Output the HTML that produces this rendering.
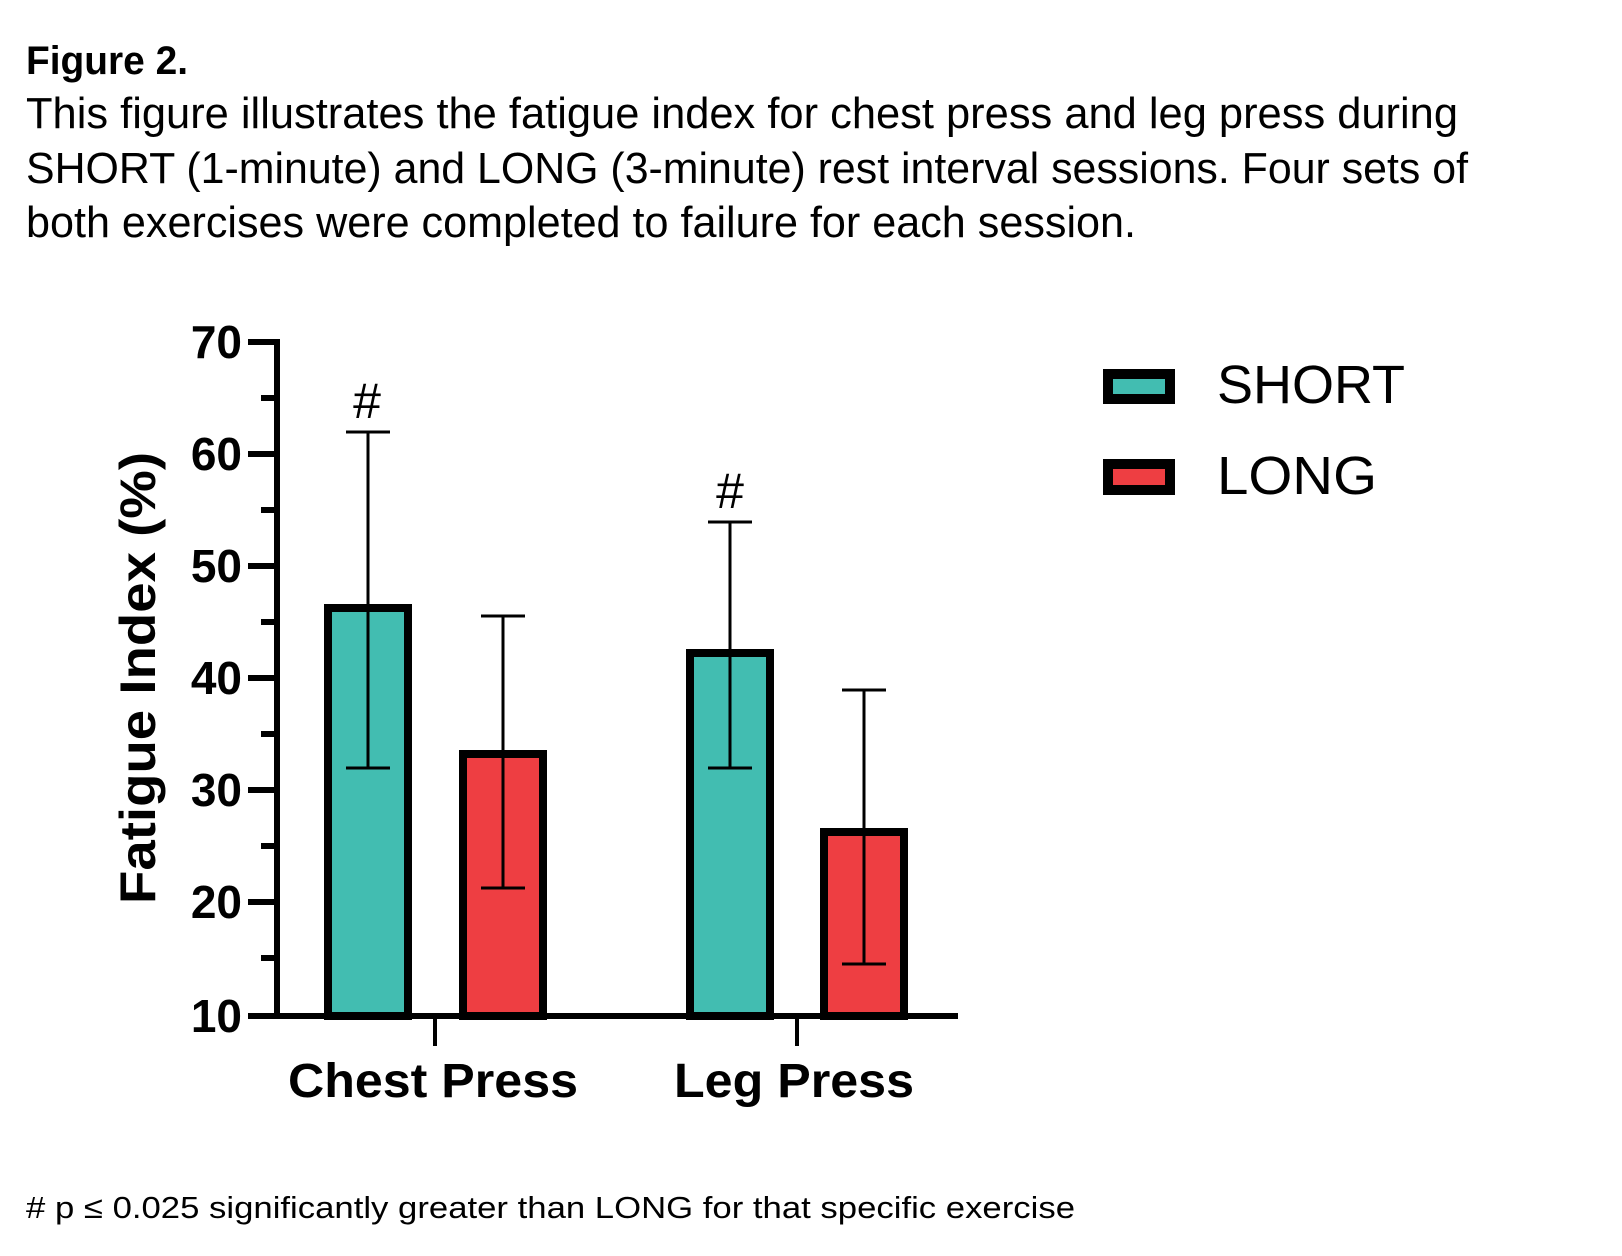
<!DOCTYPE html>
<html><head><meta charset="utf-8"><style>
html,body{margin:0;padding:0;background:#fff;width:1622px;height:1256px;overflow:hidden}
svg{display:block}
</style></head><body>
<svg width="1622" height="1256" viewBox="0 0 1622 1256" xmlns="http://www.w3.org/2000/svg" font-family="Liberation Sans, sans-serif">
<text x="26" y="74" font-size="40" font-weight="bold" textLength="162" lengthAdjust="spacingAndGlyphs">Figure 2.</text>
<text x="26" y="128" font-size="44" textLength="1432" lengthAdjust="spacingAndGlyphs">This figure illustrates the fatigue index for chest press and leg press during</text>
<text x="26" y="183" font-size="44" textLength="1442" lengthAdjust="spacingAndGlyphs">SHORT (1-minute) and LONG (3-minute) rest interval sessions. Four sets of</text>
<text x="26" y="237" font-size="44" textLength="1110" lengthAdjust="spacingAndGlyphs">both exercises were completed to failure for each session.</text>

<!-- bars -->
<g stroke="#000" stroke-width="8">
<rect x="328" y="608" width="80" height="408" fill="#42BDB1"/>
<rect x="463" y="754" width="80" height="262" fill="#EE3E42"/>
<rect x="690" y="653" width="80" height="363" fill="#42BDB1"/>
<rect x="824" y="832" width="80" height="184" fill="#EE3E42"/>
</g>
<!-- error bars -->
<g stroke="#000" stroke-width="3">
<line x1="368" y1="432" x2="368" y2="768"/><line x1="346" y1="432" x2="390" y2="432"/><line x1="346" y1="768" x2="390" y2="768"/>
<line x1="503" y1="616" x2="503" y2="888"/><line x1="481" y1="616" x2="525" y2="616"/><line x1="481" y1="888" x2="525" y2="888"/>
<line x1="730" y1="522" x2="730" y2="768"/><line x1="708" y1="522" x2="752" y2="522"/><line x1="708" y1="768" x2="752" y2="768"/>
<line x1="864" y1="690" x2="864" y2="964"/><line x1="842" y1="690" x2="886" y2="690"/><line x1="842" y1="964" x2="886" y2="964"/>
</g>
<text x="367" y="418" font-size="50" text-anchor="middle">#</text>
<text x="730" y="508" font-size="50" text-anchor="middle">#</text>

<!-- axes -->
<g stroke="#000">
<line x1="277" y1="339" x2="277" y2="1019" stroke-width="6"/>
<line x1="248" y1="1016" x2="958" y2="1016" stroke-width="6"/>
<g stroke-width="6">
<line x1="248" y1="342" x2="277" y2="342"/><line x1="248" y1="454" x2="277" y2="454"/><line x1="248" y1="566" x2="277" y2="566"/>
<line x1="248" y1="678" x2="277" y2="678"/><line x1="248" y1="790" x2="277" y2="790"/><line x1="248" y1="902" x2="277" y2="902"/>
<line x1="261" y1="398" x2="277" y2="398"/><line x1="261" y1="510" x2="277" y2="510"/><line x1="261" y1="622" x2="277" y2="622"/>
<line x1="261" y1="734" x2="277" y2="734"/><line x1="261" y1="846" x2="277" y2="846"/><line x1="261" y1="958" x2="277" y2="958"/>
</g>
<line x1="435" y1="1016" x2="435" y2="1046" stroke-width="4"/>
<line x1="797" y1="1016" x2="797" y2="1046" stroke-width="4"/>
</g>
<g font-size="46" font-weight="bold" text-anchor="end">
<text x="242" y="358">70</text><text x="242" y="470">60</text><text x="242" y="582">50</text>
<text x="242" y="694">40</text><text x="242" y="806">30</text><text x="242" y="918">20</text><text x="242" y="1032">10</text>
</g>
<text transform="translate(155,678) rotate(-90)" font-size="50" font-weight="bold" text-anchor="middle" textLength="452" lengthAdjust="spacingAndGlyphs">Fatigue Index (%)</text>
<text x="433" y="1097" font-size="48" font-weight="bold" text-anchor="middle" textLength="290" lengthAdjust="spacingAndGlyphs">Chest Press</text>
<text x="794" y="1097" font-size="48" font-weight="bold" text-anchor="middle" textLength="240" lengthAdjust="spacingAndGlyphs">Leg Press</text>

<!-- legend -->
<rect x="1108" y="374" width="62" height="25" fill="#42BDB1" stroke="#000" stroke-width="10"/>
<rect x="1108" y="464" width="62" height="26" fill="#EE3E42" stroke="#000" stroke-width="10"/>
<text x="1217" y="403" font-size="54" textLength="188" lengthAdjust="spacingAndGlyphs">SHORT</text>
<text x="1217" y="494" font-size="54" textLength="160" lengthAdjust="spacingAndGlyphs">LONG</text>

<text x="26" y="1218" font-size="31" textLength="1049" lengthAdjust="spacingAndGlyphs"># p ≤ 0.025 significantly greater than LONG for that specific exercise</text>
</svg>
</body></html>
